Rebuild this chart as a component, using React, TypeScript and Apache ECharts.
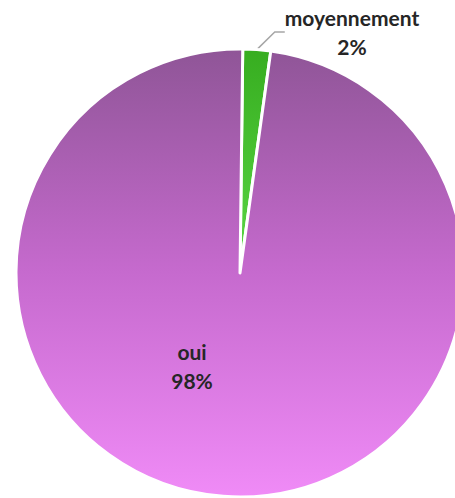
import React, { useEffect, useRef } from "react";
import * as echarts from "echarts";

const categories = ["moyennement", "oui"];
const values = [2, 98];
const percentLabels = ["2%", "98%"];

export default function App() {
  const ref = useRef<HTMLDivElement>(null);
  useEffect(() => {
    if (!ref.current) return;
    const chart = echarts.init(ref.current, null, { renderer: "svg" });
    const colors = [
      new echarts.graphic.LinearGradient(0, 0, 0, 1, [
        { offset: 0, color: "#37ad20" },
        { offset: 1, color: "#5ad845" },
      ]),
      new echarts.graphic.LinearGradient(0, 0, 0, 1, [
        { offset: 0, color: "#8f5597" },
        { offset: 0.5, color: "#c66ace" },
        { offset: 1, color: "#f08bf7" },
      ]),
    ];
    chart.setOption({
      animation: false,
      series: [
        {
          type: "pie",
          center: [240, 273],
          radius: 224,
          startAngle: 89.3,
          clockwise: true,
          avoidLabelOverlap: false,
          itemStyle: { borderColor: "#ffffff", borderWidth: 3 },
          label: {
            show: true,
            color: "#262626",
            fontFamily: "Lato",
            fontWeight: "bold",
            fontSize: 21,
            lineHeight: 29,
            formatter: (p: any) => `${p.name}\n${percentLabels[p.dataIndex]}`,
          },
          labelLine: {
            show: true,
            length: 18,
            length2: 10,
            lineStyle: { color: "#a6a6a6", width: 1.5 },
          },
          labelLayout: (params: any) => {
            if (params.dataIndex === 0) {
              return { x: 352, y: 32, align: "center", verticalAlign: "middle" };
            }
            return { x: 192, y: 366, align: "center", verticalAlign: "middle" };
          },
          data: categories.map((name, i) => ({
            name,
            value: values[i],
            itemStyle: { color: colors[i] },
            label: i === 1 ? { position: "inside" } : { position: "outside" },
            labelLine: i === 1 ? { show: false } : undefined,
          })),
        },
      ],
    });
    return () => chart.dispose();
  }, []);
  return (
    <div
      ref={ref}
      style={{ position: "absolute", left: 0, top: 0, width: 455, height: 498 }}
    />
  );
}
